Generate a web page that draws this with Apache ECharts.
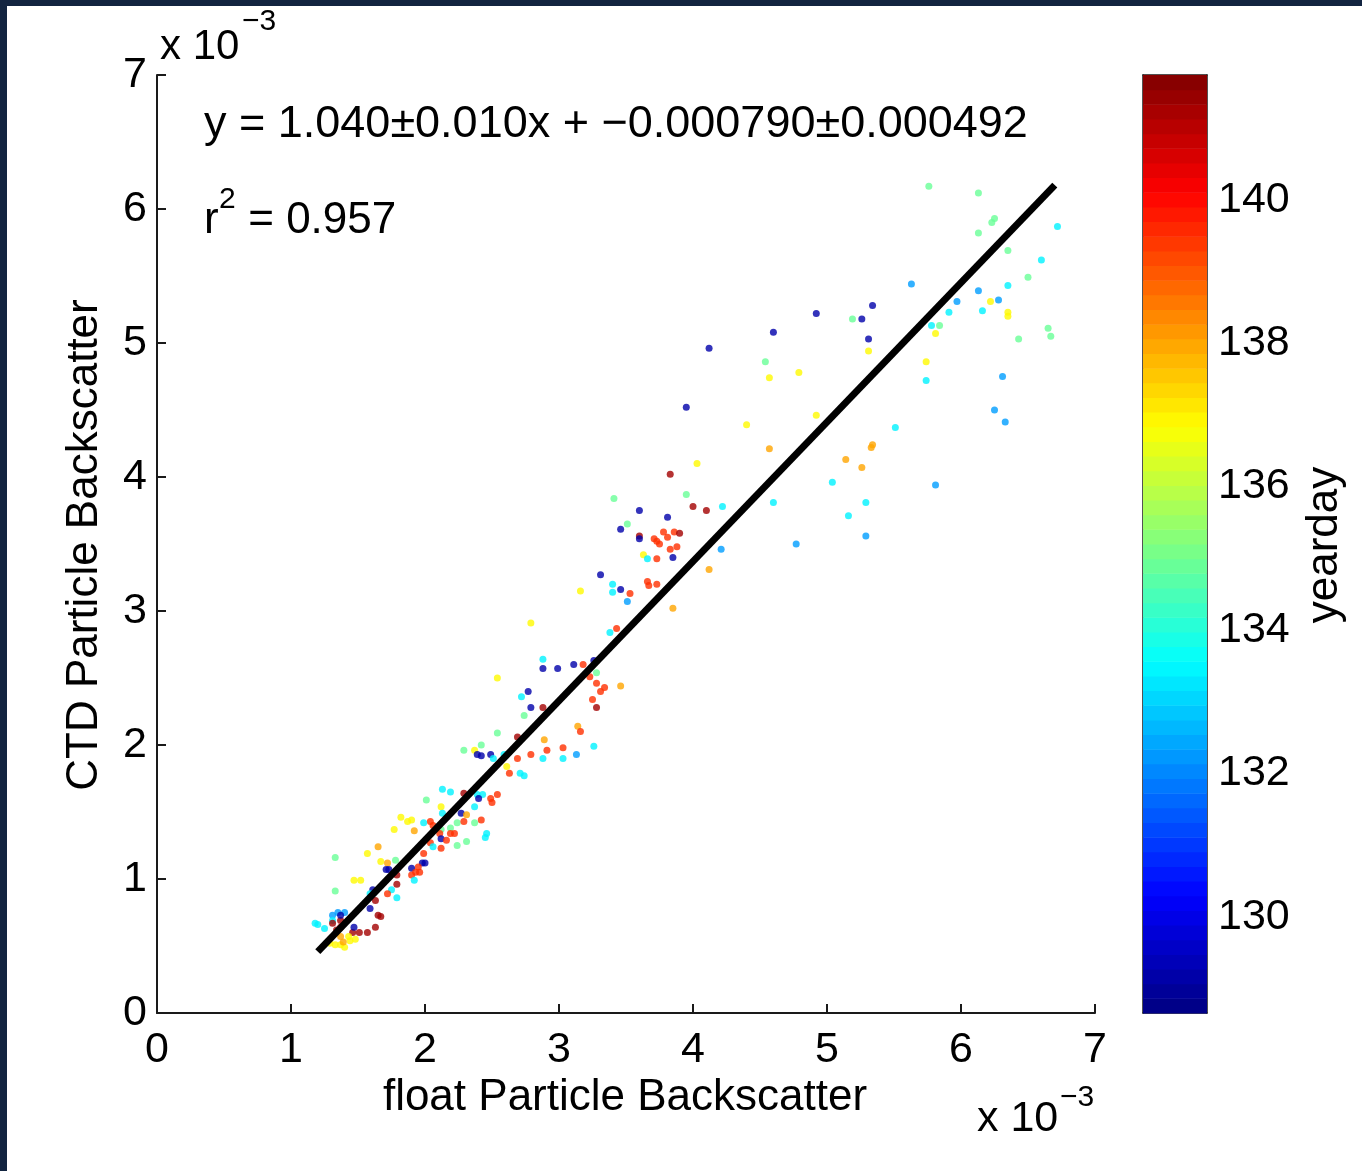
<!DOCTYPE html>
<html>
<head>
<meta charset="utf-8">
<script src="https://cdn.jsdelivr.net/npm/echarts@6/dist/echarts.min.js"></script>
<style>
html,body{margin:0;padding:0;background:#fff;}
#chart{width:1362px;height:1171px;}
</style>
</head>
<body>
<div id="chart"></div>
<script>
// Values in units of 1e-3 (axes carry the "x 10^-3" multiplier)
const floatBbp = [
5.76,6.13,6.25,6.23,6.13,6.72,6.35,6.60,6.50,5.63,6.35,6.13,6.28,6.22,5.97,5.91,6.16,6.35,6.35,5.78,5.84,5.81,6.65,6.67,6.43,5.74,5.74,6.31,6.25,6.33,5.51,5.81,
5.34,4.92,5.19,5.26,4.60,5.31,5.31,4.54,4.79,4.57,4.92,4.40,4.57,5.34,5.33,5.14,5.26,5.04,4.60,5.29,4.22,5.16,5.29,4.77,4.21,
3.95,4.03,3.83,3.95,4.00,4.10,4.12,4.12,
3.41,3.60,3.81,3.51,3.46,3.60,3.60,3.71,3.78,3.86,3.90,3.73,3.81,3.75,3.83,3.88,3.63,3.66,3.73,3.85,3.31,3.40,3.46,3.40,3.66,3.67,3.73,3.53,3.51,3.16,3.85,2.79,3.38,3.43,2.88,2.88,2.99,3.11,3.26,3.18,3.23,3.28,
3.28,3.31,3.34,3.46,3.25,3.28,2.54,2.77,2.72,2.79,2.88,2.74,2.69,2.54,3.14,3.16,2.89,2.91,3.03,3.26,3.13,3.03,2.88,2.79,2.69,2.29,2.37,2.42,2.39,2.42,2.49,2.51,2.59,2.61,2.63,2.71,2.74,2.13,2.19,2.01,2.29,2.39,2.43,2.40,2.49,2.54,2.50,2.12,2.13,2.37,2.27,2.31,1.82,1.90,1.87,2.24,2.37,2.04,2.06,2.29,2.42,1.99,1.77,1.92,2.19,2.12,2.11,2.19,2.22,2.46,2.45,2.31,2.24,2.04,2.12,2.16,2.06,2.12,1.99,
1.65,1.33,1.57,1.67,1.72,1.78,1.71,1.73,1.90,1.98,2.00,1.95,1.93,1.90,1.96,1.79,1.79,1.92,1.47,1.52,1.33,1.75,1.79,1.72,1.61,1.63,1.59,1.65,1.67,1.63,1.51,1.57,1.46,1.47,1.18,1.20,1.25,1.31,1.35,1.40,1.31,1.31,1.37,1.37,1.34,1.37,1.29,1.33,1.37,1.40,1.44,1.48,1.43,1.37,1.39,1.59
];
const ctdBbp = [
6.17,6.12,5.93,5.90,5.82,5.87,5.69,5.62,5.49,5.44,5.43,5.39,5.32,5.31,5.31,5.23,5.24,5.23,5.20,5.13,5.13,5.07,5.11,5.05,5.03,4.86,4.72,4.75,4.50,4.41,4.37,3.94,
5.28,5.22,5.18,5.18,5.08,5.03,4.94,4.86,4.78,4.74,4.46,4.39,4.21,4.24,4.22,4.13,4.07,3.96,3.81,3.81,3.78,3.71,3.56,3.50,3.46,
4.52,4.10,4.02,3.87,3.78,3.75,3.31,4.96,
3.84,3.75,3.70,3.65,3.61,3.56,3.54,3.54,3.59,3.59,3.58,3.52,3.55,3.50,3.46,3.48,3.42,3.39,3.39,3.40,3.27,3.20,3.16,3.14,3.22,3.19,3.20,3.13,3.07,3.15,3.02,2.91,2.84,2.87,2.64,2.57,2.57,2.60,2.63,2.60,2.51,2.54,
2.46,2.40,2.43,2.44,2.34,2.28,2.50,2.40,2.36,2.28,2.28,2.22,2.06,2.09,2.14,2.10,2.04,1.96,1.98,1.99,1.93,1.90,1.90,1.93,1.90,1.96,1.96,2.00,1.93,1.92,1.93,1.90,1.93,1.84,1.79,1.79,1.77,1.67,1.65,1.59,1.64,1.63,1.63,1.60,1.60,1.63,1.57,1.54,1.49,1.54,1.49,1.48,1.46,1.44,1.43,1.42,1.42,1.43,1.40,1.43,1.44,1.42,1.37,1.36,1.38,1.37,1.34,1.34,1.34,1.34,1.31,1.28,1.25,1.27,1.30,1.29,1.24,1.23,1.19,
1.24,1.16,1.19,1.13,1.12,1.14,1.07,1.07,1.08,1.12,1.12,1.09,1.05,1.03,1.05,1.03,0.96,0.99,0.99,0.99,0.91,0.92,0.86,0.89,0.92,0.84,0.89,0.73,0.72,0.64,0.60,0.60,0.60,0.64,0.67,0.66,0.63,0.73,0.75,0.75,0.69,0.67,0.69,0.64,0.62,0.73,0.52,0.51,0.51,0.49,0.54,0.55,0.57,0.57,0.53,0.78
];
const yearday = [
134.9,134.9,134.9,134.9,134.9,133.4,134.9,133.4,134.9,132.3,133.4,132.3,132.3,136.9,132.3,133.4,133.4,136.9,136.9,133.4,134.9,136.9,134.9,134.9,134.9,136.9,133.4,132.3,132.3,132.3,133.4,132.3,
129.2,129.2,134.9,129.2,129.2,129.2,136.9,134.9,136.9,136.9,136.9,136.9,138.0,138.0,138.0,138.0,138.0,133.4,133.4,133.4,133.4,133.4,132.3,132.3,132.3,
129.2,136.9,141.3,134.9,141.3,141.3,138.0,129.2,
134.9,129.2,129.2,134.9,129.2,141.3,129.2,139.5,139.5,139.5,141.3,139.5,139.5,139.5,139.5,139.5,136.9,133.4,139.5,129.2,129.2,133.4,129.2,133.4,139.5,139.5,139.5,139.5,132.3,136.9,138.0,136.9,133.4,139.5,133.4,129.2,129.2,129.2,129.2,139.5,139.5,134.9,
139.5,139.5,139.5,138.0,139.5,141.3,136.9,129.2,133.4,129.2,141.3,134.9,141.3,134.9,138.0,139.5,138.0,139.5,139.5,133.4,132.3,133.4,133.4,139.5,139.5,134.9,136.9,134.9,129.2,129.2,129.2,133.4,133.4,136.9,139.5,133.4,133.4,133.4,133.4,134.9,141.3,133.4,133.4,129.2,139.5,139.5,139.5,136.9,133.4,133.4,129.2,138.0,136.9,136.9,136.9,134.9,134.9,139.5,139.5,139.5,139.5,133.4,136.9,138.0,134.9,134.9,139.5,139.5,139.5,133.4,133.4,134.9,134.9,139.5,129.2,139.5,133.4,139.5,139.5,
138.0,134.9,136.9,136.9,138.0,134.9,129.2,129.2,129.2,129.2,129.2,139.5,139.5,139.5,139.5,141.3,141.3,133.4,136.9,136.9,134.9,133.4,133.4,139.5,129.2,141.3,133.4,141.3,141.3,141.3,141.3,141.3,141.3,129.2,133.4,133.4,133.4,132.3,132.3,132.3,133.4,141.3,141.3,141.3,141.3,129.2,136.9,136.9,136.9,136.9,136.9,136.9,136.9,138.0,138.0,129.2
];
const axisTicks = [0,1,2,3,4,5,6,7];
const colorbarTicks = [130,132,134,136,138,140];
const colorbarRange = [128.66, 141.74];
const fitSlope = 1.040, fitIntercept = -0.79; // intercept in 1e-3 units
const fitXRange = [1.2, 6.7];
const eqText = 'y = 1.040\u00b10.010x + \u22120.000790\u00b10.000492';

const jetStops = ['#000080','#0000ff','#0080ff','#00ffff','#80ff80','#ffff00','#ff8000','#ff0000','#800000'];
function jet(t){
  t = Math.max(0, Math.min(1, t));
  const f = t*8, i = Math.min(7, Math.floor(f)), r = f - i;
  const a = echarts.color.parse(jetStops[i]), b = echarts.color.parse(jetStops[i+1]);
  return 'rgb(' + [0,1,2].map(k => Math.round(a[k] + (b[k]-a[k])*r)).join(',') + ')';
}

const points = floatBbp.map((x,i) => [x, ctdBbp[i], yearday[i]]);
const fitLine = fitXRange.map(x => [x, fitSlope*x + fitIntercept]);
const nBands = 64;
const bands = [];
for (let k=0;k<nBands;k++){
  const lo = colorbarRange[0] + (colorbarRange[1]-colorbarRange[0])*k/nBands;
  const hi = colorbarRange[0] + (colorbarRange[1]-colorbarRange[0])*(k+1)/nBands;
  bands.push([lo, hi, (k+0.5)/nBands]);
}

const FONT = '"Liberation Sans", Arial, Helvetica, sans-serif';
const axisCol = '#1a1a1a';
const lineStyle = {color: axisCol, width: 2};

const chart = echarts.init(document.getElementById('chart'), null, {renderer:'canvas'});
chart.setOption({
  animation: false,
  backgroundColor: '#ffffff',
  grid: [
    {left:157, top:75, width:938, height:938},
    {left:1143, top:75, width:64, height:938}
  ],
  xAxis: [
    {gridIndex:0, type:'value', min:0, max:7, interval:1,
     axisLine:{show:true, lineStyle}, axisTick:{inside:true, length:9, lineStyle},
     axisLabel:{fontSize:43, color:'#000', fontFamily:FONT, margin:16},
     splitLine:{show:false}},
    {gridIndex:1, type:'value', min:0, max:1, position:'bottom',
     axisLine:{show:true, onZero:false, lineStyle:{color:axisCol, width:1.5}}, axisTick:{show:false}, axisLabel:{show:false}, splitLine:{show:false}},
    {gridIndex:1, type:'value', min:0, max:1, position:'top',
     axisLine:{show:true, onZero:false, lineStyle:{color:axisCol, width:1.5}}, axisTick:{show:false}, axisLabel:{show:false}, splitLine:{show:false}}
  ],
  yAxis: [
    {gridIndex:0, type:'value', min:0, max:7, interval:1,
     axisLine:{show:true, lineStyle}, axisTick:{inside:true, length:9, lineStyle},
     axisLabel:{fontSize:43, color:'#000', fontFamily:FONT, margin:10},
     splitLine:{show:false}},
    {gridIndex:1, type:'value', min:colorbarRange[0], max:colorbarRange[1], position:'left',
     axisLine:{show:true, onZero:false, lineStyle:{color:axisCol, width:1.5}},
     axisTick:{inside:true, length:10, customValues:colorbarTicks, lineStyle:{color:axisCol, width:1.5}},
     axisLabel:{show:false}, splitLine:{show:false}},
    {gridIndex:1, type:'value', min:colorbarRange[0], max:colorbarRange[1], position:'right',
     axisLine:{show:true, onZero:false, lineStyle:{color:axisCol, width:1.5}},
     axisTick:{inside:true, length:10, customValues:colorbarTicks, lineStyle:{color:axisCol, width:1.5}},
     axisLabel:{customValues:colorbarTicks, fontSize:43, color:'#000', fontFamily:FONT, margin:11},
     splitLine:{show:false}}
  ],
  visualMap: {
    type:'continuous', show:false, seriesIndex:0, dimension:2,
    min:colorbarRange[0], max:colorbarRange[1],
    inRange:{color: jetStops}
  },
  series: [
    {type:'scatter', xAxisIndex:0, yAxisIndex:0, data:points, symbol:'circle', symbolSize:7, z:2},
    {type:'line', xAxisIndex:0, yAxisIndex:0, data:fitLine, symbol:'none', z:3,
     lineStyle:{color:'#000', width:7}},
    {type:'custom', xAxisIndex:1, yAxisIndex:1, data:bands, z:1,
     renderItem: function(params, api){
       const p1 = api.coord([0, api.value(1)]);
       const p2 = api.coord([1, api.value(0)]);
       return {type:'rect', shape:{x:p1[0], y:p1[1], width:p2[0]-p1[0], height:p2[1]-p1[1]+0.5},
               style:{fill: jet(api.value(2)), stroke:null}};
     }}
  ],
  graphic: [
    {type:'rect', shape:{x:0,y:0,width:1362,height:6}, style:{fill:'#122440'}, z:100},
    {type:'rect', shape:{x:0,y:0,width:7,height:1171}, style:{fill:'#122440'}, z:100},
    {type:'text', x:204, y:125, style:{text:eqText, fontSize:45, fontFamily:FONT, fill:'#000', align:'left', verticalAlign:'middle'}},
    {type:'text', x:204, y:221, style:{text:'r', fontSize:44, fontFamily:FONT, fill:'#000', align:'left', verticalAlign:'middle'}},
    {type:'text', x:219, y:200, style:{text:'2', fontSize:30, fontFamily:FONT, fill:'#000', align:'left', verticalAlign:'middle'}},
    {type:'text', x:236, y:221, style:{text:' = 0.957', fontSize:44, fontFamily:FONT, fill:'#000', align:'left', verticalAlign:'middle'}},
    {type:'text', x:160, y:47, style:{text:'x 10', fontSize:42, fontFamily:FONT, fill:'#000', align:'left', verticalAlign:'middle'}},
    {type:'text', x:242, y:22, style:{text:'\u22123', fontSize:30, fontFamily:FONT, fill:'#000', align:'left', verticalAlign:'middle'}},
    {type:'text', x:977, y:1119, style:{text:'x 10', fontSize:43, fontFamily:FONT, fill:'#000', align:'left', verticalAlign:'middle'}},
    {type:'text', x:1060, y:1098, style:{text:'\u22123', fontSize:30, fontFamily:FONT, fill:'#000', align:'left', verticalAlign:'middle'}},
    {type:'text', x:625, y:1098, style:{text:'float Particle Backscatter', fontSize:44, fontFamily:FONT, fill:'#000', align:'center', verticalAlign:'middle'}},
    {type:'text', x:85, y:545, rotation:Math.PI/2, style:{text:'CTD Particle Backscatter', fontSize:44, fontFamily:FONT, fill:'#000', align:'center', verticalAlign:'middle'}},
    {type:'text', x:1325, y:545, rotation:Math.PI/2, style:{text:'yearday', fontSize:44, fontFamily:FONT, fill:'#000', align:'center', verticalAlign:'middle'}}
  ]
});
</script>
</body>
</html>
